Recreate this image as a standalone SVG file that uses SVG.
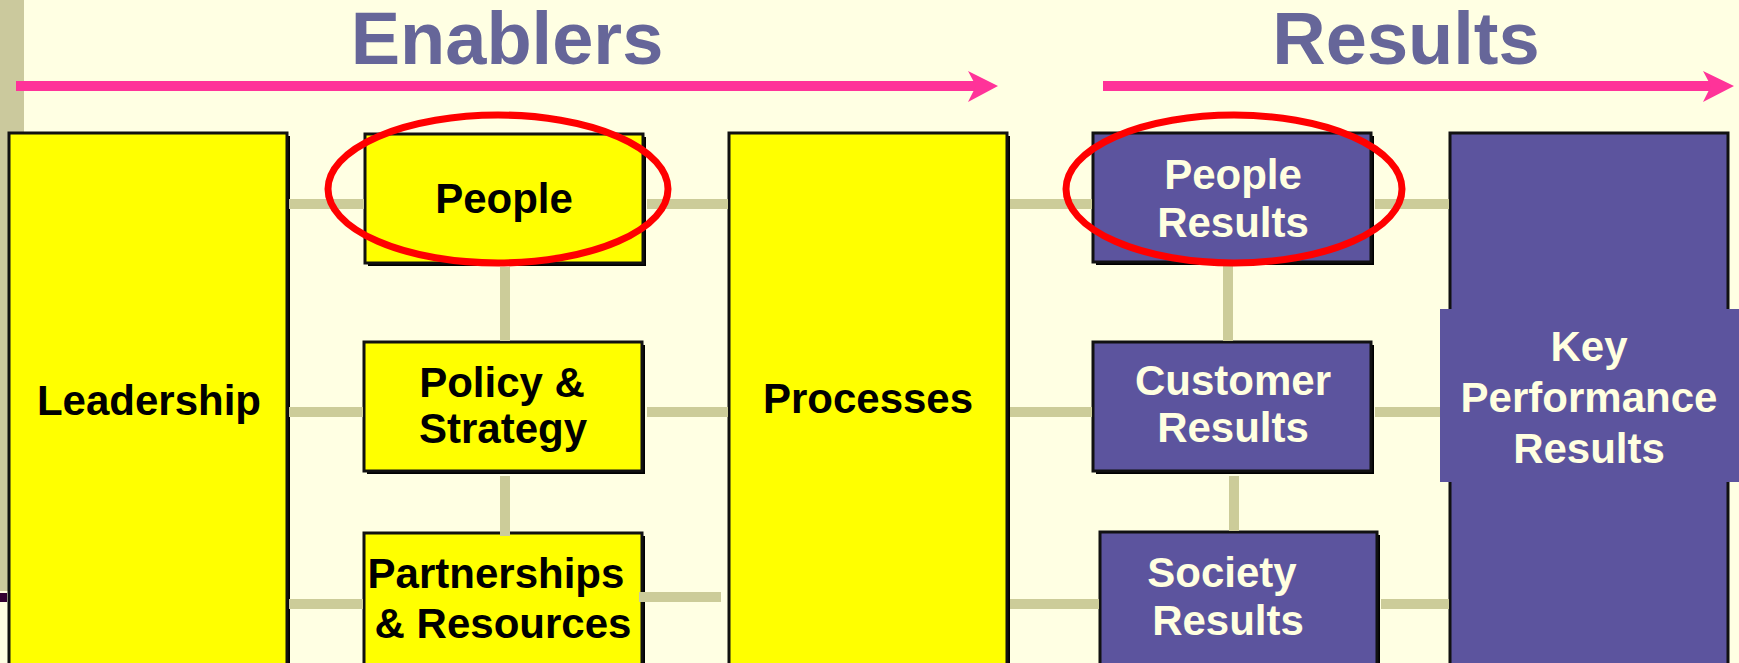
<svg xmlns="http://www.w3.org/2000/svg" width="1739" height="663" viewBox="0 0 1739 663">
<style>
.sh{fill:#000}
.yb{fill:#FFFF00;stroke:#111;stroke-width:3}
.pb{fill:#5C549E;stroke:#111;stroke-width:3}
.t{font-family:"Liberation Sans",Arial,sans-serif;font-weight:bold;font-size:42px;text-anchor:middle}
.tk{fill:#000}
.tw{fill:#FFFFE0}
.title{font-family:"Liberation Sans",Arial,sans-serif;font-weight:bold;font-size:74px;fill:#666699;text-anchor:middle}
.c{stroke:#CCCC99;stroke-width:10;fill:none}
.ring{fill:none;stroke:#FF0000;stroke-width:7}
.arr{stroke:#FF3399;stroke-width:10}
</style>
<rect x="0" y="0" width="1739" height="663" fill="#FFFFE3"/>
<rect x="0" y="0" width="24" height="591" fill="#CBC99D"/>
<rect x="0" y="593" width="7" height="9" fill="#330033"/>

<g id="title-enablers"><text class="title" x="507" y="64">Enablers</text></g>
<g id="title-results"><text class="title" x="1406" y="64">Results</text></g>

<g id="arrows">
<line class="arr" x1="16" y1="86" x2="978" y2="86"/>
<polygon fill="#FF3399" points="968,71 998,86 968,102 976,86"/>
<line class="arr" x1="1103" y1="86" x2="1712" y2="86"/>
<polygon fill="#FF3399" points="1703,71 1734,86 1703,102 1711,86"/>
</g>

<g id="leadership">
<rect class="sh" x="12" y="136" width="278" height="540"/>
<rect class="yb" x="9" y="133" width="278" height="540"/>
<text class="t tk" x="149" y="415">Leadership</text>
</g>
<g id="people">
<rect class="sh" x="368" y="137" width="278" height="129"/>
<rect class="yb" x="365" y="134" width="278" height="129"/>
<text class="t tk" x="504" y="213">People</text>
</g>
<g id="policy">
<rect class="sh" x="367" y="345" width="278" height="129"/>
<rect class="yb" x="364" y="342" width="278" height="129"/>
<text class="t tk" x="502" y="397">Policy &amp;</text>
<text class="t tk" x="503" y="443">Strategy</text>
</g>
<g id="partnerships">
<rect class="sh" x="367" y="536" width="278" height="140"/>
<rect class="yb" x="364" y="533" width="278" height="140"/>
<text class="t tk" x="496" y="588">Partnerships</text>
<text class="t tk" x="503" y="638">&amp; Resources</text>
</g>
<g id="processes">
<rect class="sh" x="732" y="136" width="278" height="540"/>
<rect class="yb" x="729" y="133" width="278" height="540"/>
<text class="t tk" x="868" y="413">Processes</text>
</g>
<g id="people-results">
<rect class="sh" x="1096" y="136" width="278" height="129"/>
<rect class="pb" x="1093" y="133" width="278" height="129"/>
<text class="t tw" x="1233" y="189">People</text>
<text class="t tw" x="1233" y="237">Results</text>
</g>
<g id="customer-results">
<rect class="sh" x="1096" y="345" width="278" height="129"/>
<rect class="pb" x="1093" y="342" width="278" height="129"/>
<text class="t tw" x="1233" y="395">Customer</text>
<text class="t tw" x="1233" y="442">Results</text>
</g>
<g id="society-results">
<rect class="sh" x="1103" y="535" width="277" height="140"/>
<rect class="pb" x="1100" y="532" width="277" height="140"/>
<text class="t tw" x="1222" y="587">Society</text>
<text class="t tw" x="1228" y="635">Results</text>
</g>
<g id="kpr">
<rect class="pb" x="1450" y="133" width="278" height="540"/>
<rect x="1440" y="309" width="299" height="173" fill="#5C549E"/>
<text class="t tw" x="1589" y="361">Key</text>
<text class="t tw" x="1589" y="412">Performance</text>
<text class="t tw" x="1589" y="463">Results</text>
</g>

<g id="connectors">
<line class="c" x1="289" y1="204" x2="364" y2="204"/>
<line class="c" x1="647" y1="204" x2="728" y2="204"/>
<line class="c" x1="1010" y1="204" x2="1092" y2="204"/>
<line class="c" x1="1375" y1="204" x2="1449" y2="204"/>
<line class="c" x1="289" y1="412" x2="363" y2="412"/>
<line class="c" x1="647" y1="412" x2="728" y2="412"/>
<line class="c" x1="1010" y1="412" x2="1092" y2="412"/>
<line class="c" x1="1375" y1="412" x2="1440" y2="412"/>
<line class="c" x1="289" y1="604" x2="363" y2="604"/>
<line class="c" x1="639" y1="597" x2="721" y2="597"/>
<line class="c" x1="1010" y1="604" x2="1099" y2="604"/>
<line class="c" x1="1381" y1="604" x2="1449" y2="604"/>
<line class="c" x1="505" y1="267" x2="505" y2="341"/>
<line class="c" x1="505" y1="476" x2="505" y2="536"/>
<line class="c" x1="1228" y1="266" x2="1228" y2="341"/>
<line class="c" x1="1234" y1="476" x2="1234" y2="531"/>
</g>

<g id="highlights">
<ellipse class="ring" cx="498" cy="189" rx="170" ry="74"/>
<ellipse class="ring" cx="1234" cy="189" rx="168" ry="74"/>
</g>
</svg>
